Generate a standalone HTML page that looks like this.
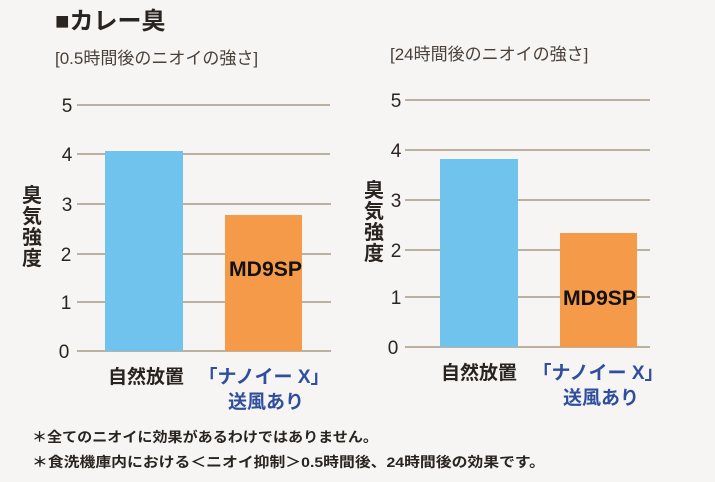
<!DOCTYPE html>
<html><head><meta charset="utf-8"><style>
body{margin:0;width:715px;height:477px;background:#f6f5f3;overflow:hidden;font-family:"Liberation Sans","Noto Sans CJK JP",sans-serif;}
</style></head><body>
<svg width="715" height="477" xmlns="http://www.w3.org/2000/svg" font-family="Liberation Sans, Noto Sans CJK JP, sans-serif">
<rect width="715" height="477" fill="#f6f5f3"/>
<text x="55" y="29" font-size="24" font-weight="bold" fill="#2a2420">■カレー臭</text>
<text x="55" y="64" font-size="17" fill="#4a4038">[0.5時間後のニオイの強さ]</text>
<text x="390" y="60" font-size="17" fill="#4a4038">[24時間後のニオイの強さ]</text>
<g stroke="#a89a86" stroke-width="1.5">
<line x1="77" y1="105" x2="330" y2="105"/><line x1="77" y1="154" x2="330" y2="154"/><line x1="77" y1="204" x2="331" y2="204"/><line x1="77" y1="254" x2="331" y2="254"/><line x1="77" y1="302" x2="331" y2="302"/><line x1="77" y1="351" x2="331" y2="351"/>
<line x1="405" y1="100" x2="650" y2="100"/><line x1="405" y1="150" x2="650" y2="150"/><line x1="405" y1="200" x2="650" y2="200"/><line x1="405" y1="250" x2="650" y2="250"/><line x1="405" y1="297" x2="650" y2="297"/><line x1="405" y1="347" x2="650" y2="347"/>
</g>
<rect x="105" y="151" width="78" height="200" fill="#6fc3ec"/>
<rect x="225" y="215" width="77" height="136" fill="#f59a48"/>
<rect x="440" y="159" width="78" height="188" fill="#6fc3ec"/>
<rect x="560" y="233" width="77" height="114" fill="#f59a48"/>
<g font-size="19" fill="#2a2420" text-anchor="middle">
<text x="67" y="112">5</text><text x="67" y="161">4</text><text x="67" y="211">3</text><text x="66" y="261">2</text><text x="66" y="309">1</text><text x="64" y="358">0</text>
<text x="396" y="107">5</text><text x="396" y="157">4</text><text x="396" y="207">3</text><text x="396" y="257">2</text><text x="396" y="304">1</text><text x="393" y="354">0</text>
</g>
<g font-size="20" font-weight="bold" fill="#2a2420" text-anchor="middle">
<text x="32" y="202">臭</text><text x="32" y="223">気</text><text x="32" y="244">強</text><text x="32" y="265">度</text>
<text x="374" y="197">臭</text><text x="374" y="218">気</text><text x="374" y="239">強</text><text x="374" y="260">度</text>
</g>
<g font-size="21" font-weight="bold" fill="#111">
<text x="229" y="276" textLength="73" lengthAdjust="spacingAndGlyphs">MD9SP</text>
<text x="563" y="305" textLength="73" lengthAdjust="spacingAndGlyphs">MD9SP</text>
</g>
<g font-size="19" font-weight="bold" text-anchor="middle">
<text x="146" y="383" fill="#2a2420">自然放置</text>
<text x="264" y="383" fill="#2f4f9e">「ナノイー X」</text>
<text x="266" y="408" fill="#2f4f9e">送風あり</text>
<text x="479" y="379" fill="#2a2420">自然放置</text>
<text x="598" y="379" fill="#2f4f9e">「ナノイー X」</text>
<text x="601" y="404" fill="#2f4f9e">送風あり</text>
</g>
<g font-size="14" fill="#2a2420" font-weight="bold">
<text x="32" y="442" textLength="346" lengthAdjust="spacingAndGlyphs">＊全てのニオイに効果があるわけではありません。</text>
<text x="32" y="467" textLength="513" lengthAdjust="spacingAndGlyphs">＊食洗機庫内における＜ニオイ抑制＞0.5時間後、24時間後の効果です。</text>
</g>
</svg>
</body></html>
